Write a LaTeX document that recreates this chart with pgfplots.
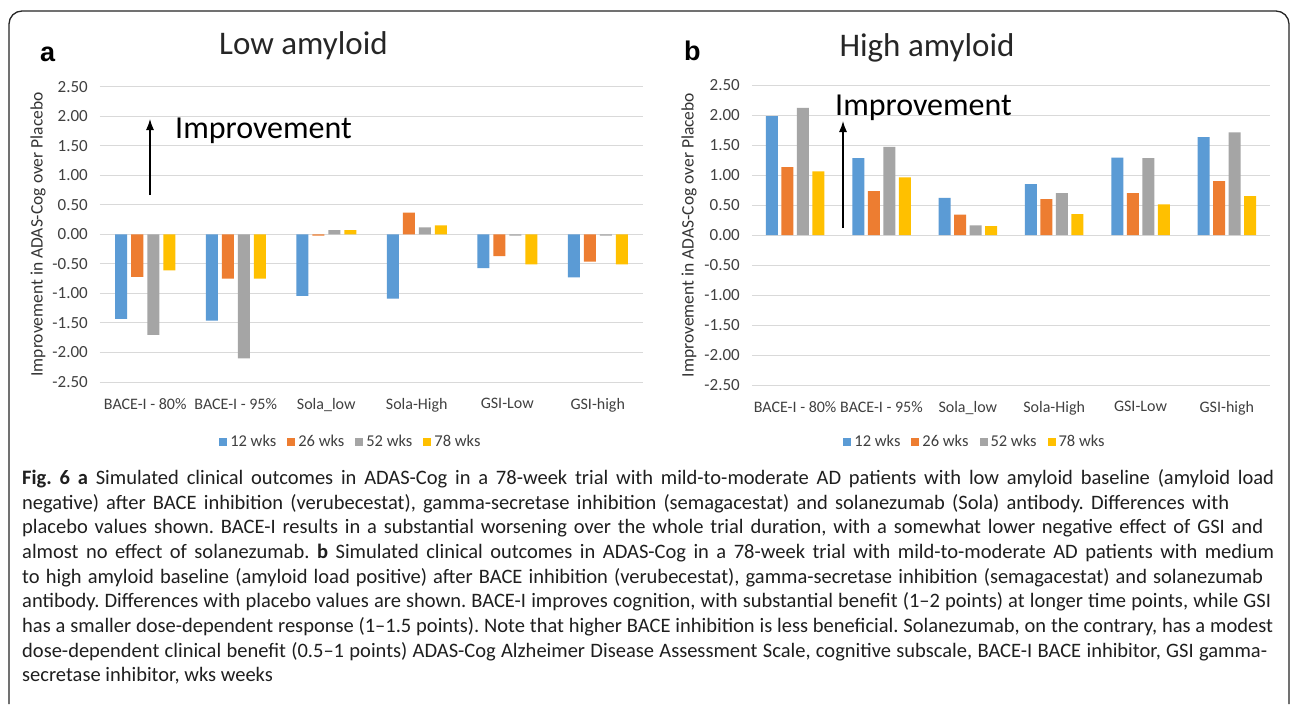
\documentclass[border=0pt]{standalone}
\usepackage{fontspec}
\setmainfont{Carlito}
\newfontfamily\arialfont{Liberation Sans}
\usepackage{pgfplots}
\usepackage{pgfplotstable}
\pgfplotsset{compat=1.18}
\usetikzlibrary{arrows.meta}
\definecolor{c1}{HTML}{5B9BD5}
\definecolor{c2}{HTML}{ED7D31}
\definecolor{c3}{HTML}{A5A5A5}
\definecolor{c4}{HTML}{FFC000}
\definecolor{gridc}{HTML}{D9D9D9}
\definecolor{txt}{HTML}{404040}
\frenchspacing

\pgfplotstableread{
x w12 w26 w52 w78
0 -1.43 -0.72 -1.70 -0.61
1 -1.46 -0.75 -2.10 -0.75
2 -1.04 -0.02 0.07 0.07
3 -1.09 0.37 0.12 0.15
4 -0.57 -0.37 -0.02 -0.51
5 -0.73 -0.46 -0.02 -0.51
}\lowtab

\pgfplotstableread{
x w12 w26 w52 w78
0 1.98 1.13 2.12 1.06
1 1.28 0.73 1.47 0.96
2 0.62 0.34 0.16 0.15
3 0.85 0.60 0.70 0.35
4 1.29 0.70 1.28 0.51
5 1.63 0.90 1.71 0.65
}\hightab

\pgfplotsset{panel/.style={
  scale only axis, xmin=-0.5, xmax=5.5, ymin=-2.5, ymax=2.5,
  ytick={-2.5,-2,-1.5,-1,-0.5,0,0.5,1,1.5,2,2.5},
  yticklabels={-2.50,-2.00,-1.50,-1.00,-0.50,0.00,0.50,1.00,1.50,2.00,2.50},
  xtick={0,1,2,3,4,5},
  xticklabels={BACE-I - 80\%, BACE-I - 95\%, Sola\_low, Sola-High, GSI-Low, GSI-high},
  ymajorgrids, grid style={draw=gridc, line width=1pt},
  axis line style={draw=none}, major tick length=0pt,
  yticklabel style={font=\fontsize{17}{20}\selectfont, text=txt, anchor=east, inner sep=0pt, xshift=-12pt},
  xticklabel style={font=\fontsize{16}{19}\selectfont, text=txt, anchor=north, inner sep=0pt, yshift=-16pt},
  ylabel={Improvement in ADAS-Cog over Placebo},
  ylabel style={font=\fontsize{17.5}{20}\selectfont, text=black!80, anchor=center},
  bar width=12pt,
  legend columns=4,
  legend style={draw=none, fill=none, font=\fontsize{16.5}{19}\selectfont, text=txt, anchor=center,
    /tikz/every even column/.append style={column sep=9pt},
    /tikz/every odd column/.append style={column sep=1pt}},
},
sqlegend/.style={legend image code/.code={\fill[##1, draw=none] (0pt,-4pt) rectangle (8pt,4pt);}},
}

\newcommand{\capline}[3]{\node at (22pt,-#1pt) {\makebox[#2pt][s]{#3}};}

\begin{document}
\begin{tikzpicture}
\useasboundingbox (0,0) rectangle (1290pt,-704pt);
\fill[white] (0,0) rectangle (1290pt,-704pt);
\draw[line width=1.3pt, black!85, rounded corners=13pt] (9pt,-704pt) -- (9pt,-11pt) -- (1289pt,-11pt) -- (1289pt,-704pt);

\begin{axis}[panel, ybar=4pt, sqlegend, at={(100pt,-382pt)}, anchor=south west, width=543pt, height=295.3pt,
  ylabel style={at={(axis description cs:-0.114,0.5)}},
  legend style={at={(axis description cs:0.462,-0.203)}}]
\addplot[fill=c1, draw=none] table[x=x, y=w12] {\lowtab};
\addplot[fill=c2, draw=none] table[x=x, y=w26] {\lowtab};
\addplot[fill=c3, draw=none] table[x=x, y=w52] {\lowtab};
\addplot[fill=c4, draw=none] table[x=x, y=w78] {\lowtab};
\legend{12 wks, 26 wks, 52 wks, 78 wks}
\end{axis}

\begin{axis}[panel, ybar=3.5pt, sqlegend, at={(752pt,-385pt)}, anchor=south west, width=518pt, height=300pt,
  ylabel style={at={(axis description cs:-0.1216,0.5)}},
  legend style={at={(axis description cs:0.4305,-0.19)}}]
\addplot[fill=c1, draw=none] table[x=x, y=w12] {\hightab};
\addplot[fill=c2, draw=none] table[x=x, y=w26] {\hightab};
\addplot[fill=c3, draw=none] table[x=x, y=w52] {\hightab};
\addplot[fill=c4, draw=none] table[x=x, y=w78] {\hightab};
\legend{12 wks, 26 wks, 52 wks, 78 wks}
\end{axis}

% panel letters and titles
\node[anchor=base west, inner sep=0pt, font=\arialfont\bfseries\fontsize{27}{30}\selectfont] at (40pt,-61pt) {a};
\node[anchor=base west, inner sep=0pt, font=\arialfont\bfseries\fontsize{27}{30}\selectfont] at (684pt,-60pt) {b};
\node[anchor=base, inner sep=0pt, font=\fontsize{33}{36}\selectfont, text=black!85] at (303.5pt,-54pt) {Low amyloid};
\node[anchor=base, inner sep=0pt, font=\fontsize{33}{36}\selectfont, text=black!85] at (927pt,-56pt) {High amyloid};

% improvement annotations
\draw[-{Latex[length=11pt,width=8pt]}, line width=1.2pt] (150pt,-195pt) -- (150pt,-119pt);
\node[anchor=base west, inner sep=0pt, font=\fontsize{32}{36}\selectfont] at (175pt,-138pt) {Improvement};
\draw[-{Latex[length=11pt,width=8pt]}, line width=1.2pt] (843pt,-228pt) -- (843pt,-121pt);
\node[anchor=base west, inner sep=0pt, font=\fontsize{32}{36}\selectfont] at (835pt,-115pt) {Improvement};

% caption
\begin{scope}[every node/.style={anchor=base west, inner sep=0pt, font=\fontsize{20.5}{24}\selectfont, text=black!88}]
\capline{484.5}{1252}{\textbf{Fig. 6 a} Simulated clinical outcomes in ADAS-Cog in a 78-week trial with mild-to-moderate AD patients with low amyloid baseline (amyloid load}
\capline{509.15}{1207}{negative) after BACE inhibition (verubecestat), gamma-secretase inhibition (semagacestat) and solanezumab (Sola) antibody. Differences with}
\capline{533.8}{1241}{placebo values shown. BACE-I results in a substantial worsening over the whole trial duration, with a somewhat lower negative effect of GSI and}
\capline{558.45}{1252}{almost no effect of solanezumab. \textbf{b} Simulated clinical outcomes in ADAS-Cog in a 78-week trial with mild-to-moderate AD patients with medium}
\capline{583.1}{1241}{to high amyloid baseline (amyloid load positive) after BACE inhibition (verubecestat), gamma-secretase inhibition (semagacestat) and solanezumab}
\capline{607.75}{1249}{antibody. Differences with placebo values are shown. BACE-I improves cognition, with substantial benefit (1–2 points) at longer time points, while GSI}
\capline{632.4}{1251}{has a smaller dose-dependent response (1–1.5 points). Note that higher BACE inhibition is less beneficial. Solanezumab, on the contrary, has a modest}
\capline{657.05}{1245}{dose-dependent clinical benefit (0.5–1 points) ADAS-Cog Alzheimer Disease Assessment Scale, cognitive subscale, BACE-I BACE inhibitor, GSI gamma-}
\node at (22pt,-681.7pt) {secretase inhibitor, wks weeks};
\end{scope}
\end{tikzpicture}
\end{document}
